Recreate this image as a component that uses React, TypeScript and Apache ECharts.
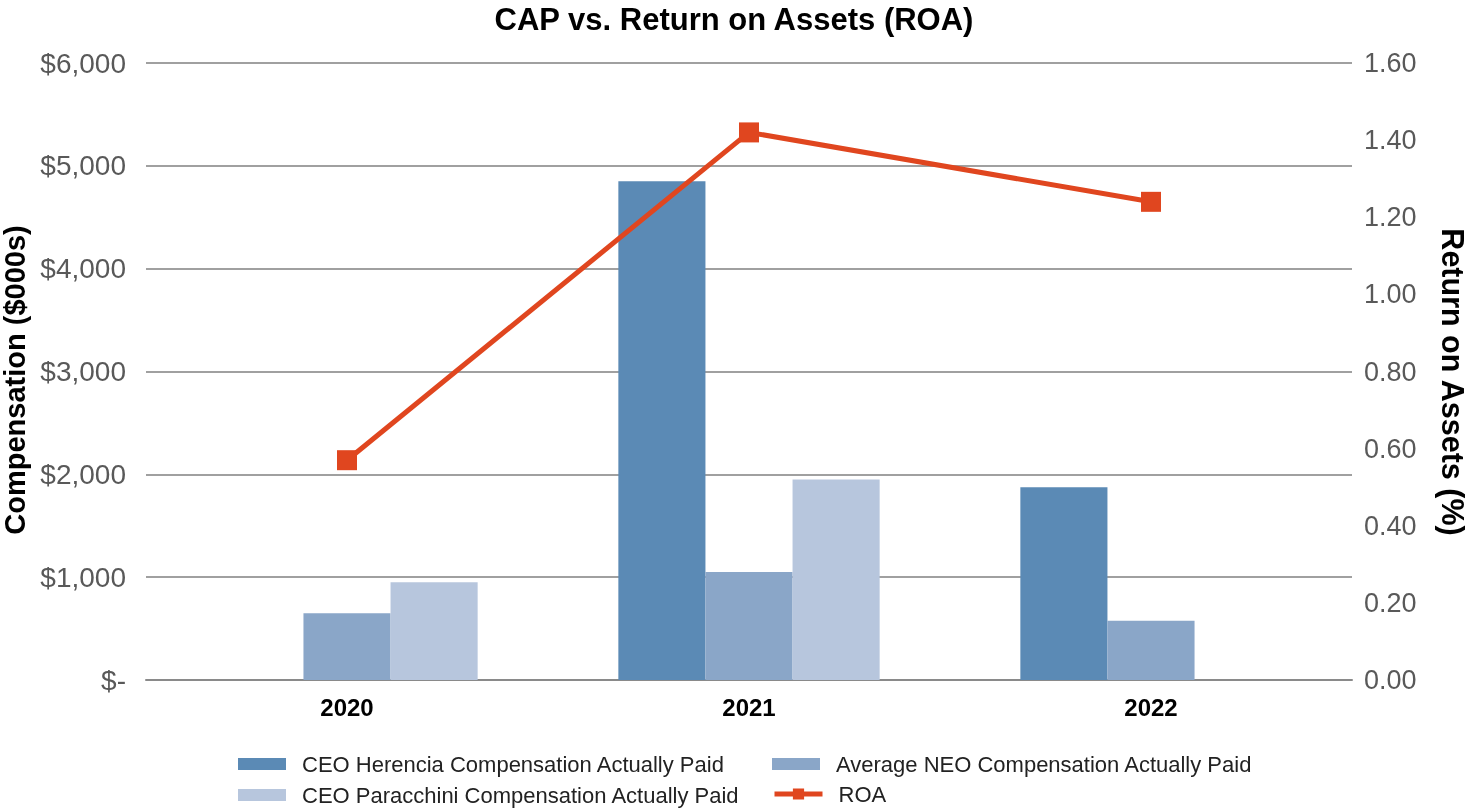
import React, { useEffect, useRef } from "react";
import * as echarts from "echarts";

const years = ["2020", "2021", "2022"];
const herencia = [0, 4850, 1875];
const neo = [650, 1050, 575];
const paracchini = [950, 1950, 0];
const roa = [0.57, 1.42, 1.24];

const leftTicks = { min: 0, max: 6000, interval: 1000 };
const rightTicks = { min: 0, max: 1.6, interval: 0.2 };

const names = {
  herencia: "CEO Herencia Compensation Actually Paid",
  neo: "Average NEO Compensation Actually Paid",
  paracchini: "CEO Paracchini Compensation Actually Paid",
  roa: "ROA",
};

const FONT = "'Liberation Sans', Arial, Helvetica, sans-serif";

export default function App() {
  const ref = useRef<HTMLDivElement>(null);
  useEffect(() => {
    if (!ref.current) return;
    const chart = echarts.init(ref.current, undefined, { renderer: "svg" });
    const legendBase = {
      itemWidth: 48,
      itemHeight: 12,
      icon: "rect",
      textStyle: { fontFamily: FONT, fontSize: 22, color: "#222", padding: [0, 0, 0, 11] },
    };
    chart.setOption({
      animation: false,
      textStyle: { fontFamily: FONT },
      title: {
        text: "CAP vs. Return on Assets (ROA)",
        left: "center",
        top: -1,
        textStyle: { fontFamily: FONT, fontSize: 31, fontWeight: "bold", color: "#000" },
      },
      legend: [
        { ...legendBase, data: [names.herencia], left: 233, top: 748 },
        { ...legendBase, data: [names.neo], left: 767, top: 748 },
        { ...legendBase, data: [names.paracchini], left: 233, top: 779 },
        {
          ...legendBase,
          icon: undefined,
          itemHeight: 14,
          lineStyle: { width: 5 },
          data: [names.roa],
          left: 767,
          top: 778,
        },
      ],
      grid: { left: 146, right: 116, top: 63, bottom: 130, outerBoundsMode: "none" },
      xAxis: {
        type: "category",
        data: years,
        axisTick: { show: false },
        axisLine: { lineStyle: { color: "#8a8a8a", width: 2 } },
        axisLabel: { fontFamily: FONT, fontSize: 24, fontWeight: "bold", color: "#000", margin: 15 },
      },
      yAxis: [
        {
          type: "value",
          ...leftTicks,
          name: "Compensation ($000s)",
          nameLocation: "middle",
          nameGap: 115,
          nameTextStyle: {
            fontFamily: FONT,
            fontSize: 29,
            fontWeight: "bold",
            color: "#000",
            padding: [0, 17, 0, 0],
          },
          axisLine: { show: false },
          axisTick: { show: false },
          splitLine: { lineStyle: { color: "#a0a0a0", width: 2 } },
          axisLabel: {
            fontFamily: FONT,
            fontSize: 28,
            color: "#595959",
            margin: 20,
            formatter: (v: number) => (v === 0 ? "$-" : "$" + v.toLocaleString("en-US")),
          },
        },
        {
          type: "value",
          ...rightTicks,
          position: "right",
          name: "Return on Assets (%)",
          nameLocation: "middle",
          nameGap: 85,
          nameRotate: -90,
          nameTextStyle: {
            fontFamily: FONT,
            fontSize: 30.5,
            fontWeight: "bold",
            color: "#000",
            padding: [0, 0, 0, 21],
          },
          axisLine: { show: false },
          axisTick: { show: false },
          splitLine: { show: false },
          axisLabel: {
            fontFamily: FONT,
            fontSize: 27,
            color: "#595959",
            margin: 12,
            formatter: (v: number) => v.toFixed(2),
          },
        },
      ],
      series: [
        {
          name: names.herencia,
          type: "bar",
          data: herencia,
          barGap: "0%",
          barCategoryGap: "35%",
          itemStyle: { color: "#5b8ab5" },
        },
        {
          name: names.neo,
          type: "bar",
          data: neo,
          itemStyle: { color: "#8aa6c8" },
        },
        {
          name: names.paracchini,
          type: "bar",
          data: paracchini,
          itemStyle: { color: "#b7c6dd" },
        },
        {
          name: names.roa,
          type: "line",
          yAxisIndex: 1,
          data: roa,
          symbol: "rect",
          symbolSize: 20,
          lineStyle: { color: "#e0461f", width: 5 },
          itemStyle: { color: "#e0461f" },
        },
      ],
    });
    return () => chart.dispose();
  }, []);
  return (
    <div
      ref={ref}
      style={{ position: "fixed", left: 0, top: 0, width: 1468, height: 810 }}
    />
  );
}
